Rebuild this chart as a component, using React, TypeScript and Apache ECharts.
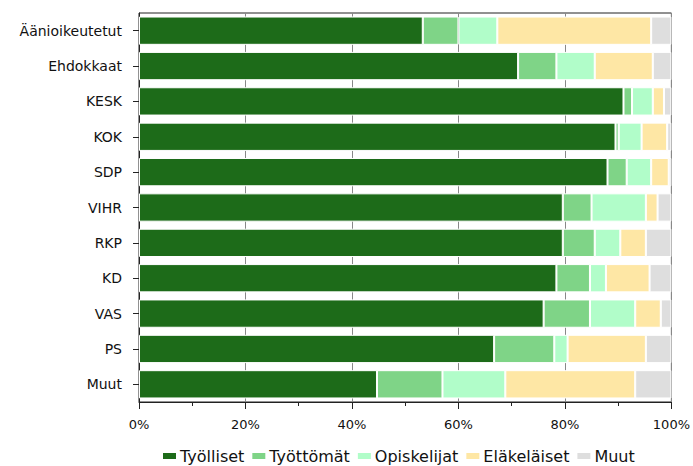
import React, { useEffect, useRef } from "react";
import * as echarts from "echarts";

const categories = ["Äänioikeutetut", "Ehdokkaat", "KESK", "KOK", "SDP", "VIHR", "RKP", "KD", "VAS", "PS", "Muut"];
const seriesNames = ["Työlliset", "Työttömät", "Opiskelijat", "Eläkeläiset", "Muut"];
const tyolliset = [53.3, 71.2, 91.0, 89.5, 88.0, 79.6, 79.6, 78.4, 76.0, 66.7, 44.7];
const tyottomat = [6.7, 7.2, 1.6, 0.6, 3.6, 5.4, 6.0, 6.3, 8.7, 11.3, 12.3];
const opiskelijat = [7.3, 7.2, 3.9, 4.3, 4.6, 10.2, 4.8, 3.0, 8.5, 2.5, 11.8];
const elakelaiset = [28.9, 10.9, 2.1, 4.8, 3.3, 2.2, 4.8, 8.2, 4.8, 14.7, 24.4];
const muut = [3.8, 3.5, 1.4, 0.8, 0.5, 2.6, 4.8, 4.1, 2.0, 4.8, 6.8];
const colors = ["#1d6b19", "#7fd487", "#b1fdc9", "#fee7a5", "#dedede"];

export default function App() {
  const ref = useRef<HTMLDivElement>(null);
  useEffect(() => {
    if (!ref.current) return;
    const chart = echarts.init(ref.current, null, { renderer: "svg" });
    const data = [tyolliset, tyottomat, opiskelijat, elakelaiset, muut];
    chart.setOption({
      animation: false,
      grid: {
        left: 139,
        right: 21,
        top: 13,
        bottom: 64,
        show: true,
        borderColor: "#222",
        borderWidth: 1,
      },
      legend: {
        top: 443,
        left: 156,
        itemWidth: 15,
        itemHeight: 8,
        itemGap: 6,
        icon: "rect",
        textStyle: { fontFamily: "DejaVu Sans", fontSize: 16, color: "#111", padding: [0, 0, 0, -2] },
        data: seriesNames,
      },
      xAxis: {
        type: "value",
        min: 0,
        max: 100,
        interval: 20,
        axisLine: { show: true, lineStyle: { color: "#222" } },
        axisTick: { show: true, length: 7, lineStyle: { color: "#222" } },
        minorTick: { show: true, splitNumber: 2, length: 4, lineStyle: { color: "#222" } },
        splitLine: { show: true, lineStyle: { color: "#888", width: 1 } },
        axisLabel: {
          formatter: "{value}%",
          fontFamily: "DejaVu Sans",
          fontSize: 13,
          color: "#111",
          margin: 16,
        },
      },
      yAxis: {
        type: "category",
        data: categories,
        inverse: true,
        axisLine: { show: true, lineStyle: { color: "#222" } },
        axisTick: { show: true, alignWithLabel: true, length: 6, lineStyle: { color: "#222" } },
        axisLabel: { fontFamily: "DejaVu Sans", fontSize: 14, color: "#111", margin: 17 },
      },
      series: seriesNames.map((name, i) => ({
        name,
        type: "bar",
        stack: "total",
        data: data[i],
        barCategoryGap: "20%",
        itemStyle: { color: colors[i], borderColor: "#fff", borderWidth: 1 },
      })),
    });
    return () => chart.dispose();
  }, []);
  return <div ref={ref} style={{ width: 693, height: 466, position: "absolute", left: 0, top: 0 }} />;
}
